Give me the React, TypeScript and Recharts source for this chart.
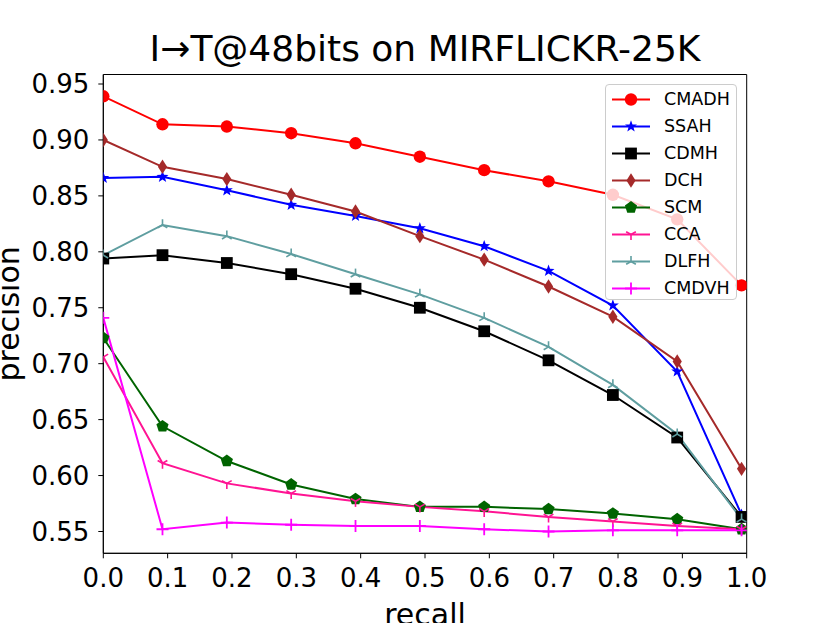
import React from 'react';
import { Label, Line, LineChart, ReferenceArea, XAxis, YAxis } from 'recharts';

const recall = [0, 0.092, 0.192, 0.292, 0.392, 0.492, 0.592, 0.692, 0.792, 0.892, 0.992];

const cmadh = [0.939, 0.914, 0.912, 0.906, 0.897, 0.885, 0.873, 0.863, 0.851, 0.829, 0.77];
const ssah = [0.866, 0.867, 0.855, 0.842, 0.832, 0.821, 0.805, 0.783, 0.752, 0.693, 0.565];
const cdmh = [0.794, 0.797, 0.79, 0.78, 0.767, 0.75, 0.729, 0.703, 0.672, 0.634, 0.563];
const dch = [0.9, 0.876, 0.865, 0.851, 0.836, 0.814, 0.793, 0.769, 0.742, 0.702, 0.606];
const scm = [0.723, 0.644, 0.613, 0.592, 0.579, 0.572, 0.572, 0.57, 0.566, 0.561, 0.552];
const cca = [0.706, 0.611, 0.593, 0.584, 0.577, 0.572, 0.568, 0.563, 0.559, 0.555, 0.552];
const dlfh = [0.797, 0.824, 0.814, 0.798, 0.78, 0.762, 0.741, 0.715, 0.681, 0.637, 0.561];
const cmdvh = [0.741, 0.552, 0.558, 0.556, 0.555, 0.555, 0.552, 0.55, 0.551, 0.551, 0.551];

const xTicks = [0, 0.1, 0.2, 0.3, 0.4, 0.5, 0.6, 0.7, 0.8, 0.9, 1.0];
const yTicks = [0.55, 0.6, 0.65, 0.7, 0.75, 0.8, 0.85, 0.9, 0.95];

type Shape = 'circle' | 'star' | 'square' | 'thinDiamond' | 'pentagon' | 'triDown' | 'triUp' | 'plus';

const series: { key: string; values: number[]; color: string; shape: Shape }[] = [
  { key: 'CMADH', values: cmadh, color: '#ff0000', shape: 'circle' },
  { key: 'SSAH', values: ssah, color: '#0000ff', shape: 'star' },
  { key: 'CDMH', values: cdmh, color: '#000000', shape: 'square' },
  { key: 'DCH', values: dch, color: '#a52a2a', shape: 'thinDiamond' },
  { key: 'SCM', values: scm, color: '#006400', shape: 'pentagon' },
  { key: 'CCA', values: cca, color: '#ff1493', shape: 'triDown' },
  { key: 'DLFH', values: dlfh, color: '#5f9ea0', shape: 'triUp' },
  { key: 'CMDVH', values: cmdvh, color: '#ff00ff', shape: 'plus' },
];

const data = recall.map((r, i) => {
  const row: Record<string, number> = { recall: r };
  series.forEach((s) => {
    row[s.key] = s.values[i];
  });
  return row;
});

const FONT = '"DejaVu Sans", sans-serif';
const W = 830;
const H = 623;
// plot box (matplotlib axes) in page pixels
const PLOT = { left: 103.3, top: 74.5, right: 746.7, bottom: 553.3 };
const Y_DOMAIN: [number, number] = [0.5305, 0.9585];

function polyPoints(cx: number, cy: number, n: number, rOuter: number, rInner?: number) {
  const pts: string[] = [];
  const count = rInner ? n * 2 : n;
  for (let i = 0; i < count; i++) {
    const r = rInner && i % 2 === 1 ? rInner : rOuter;
    const a = -Math.PI / 2 + (i * Math.PI * 2) / count;
    pts.push(`${cx + r * Math.cos(a)},${cy + r * Math.sin(a)}`);
  }
  return pts.join(' ');
}

function Marker({ shape, cx, cy, color }: { shape: Shape; cx: number; cy: number; color: string }) {
  switch (shape) {
    case 'circle':
      return <circle cx={cx} cy={cy} r={6.2} fill={color} />;
    case 'square':
      return <rect x={cx - 5.9} y={cy - 5.9} width={11.8} height={11.8} fill={color} />;
    case 'star':
      return <polygon points={polyPoints(cx, cy, 5, 6.3, 2.6)} fill={color} />;
    case 'thinDiamond':
      return (
        <polygon
          points={`${cx},${cy - 7.2} ${cx + 4.6},${cy} ${cx},${cy + 7.2} ${cx - 4.6},${cy}`}
          fill={color}
        />
      );
    case 'pentagon':
      return <polygon points={polyPoints(cx, cy, 5, 6.4)} fill={color} />;
    case 'triDown': {
      const r = 5.6;
      return (
        <g stroke={color} strokeWidth={1.6}>
          <line x1={cx} y1={cy} x2={cx} y2={cy + r} />
          <line x1={cx} y1={cy} x2={cx - r * 0.866} y2={cy - r * 0.5} />
          <line x1={cx} y1={cy} x2={cx + r * 0.866} y2={cy - r * 0.5} />
        </g>
      );
    }
    case 'triUp': {
      const r = 5.6;
      return (
        <g stroke={color} strokeWidth={1.6}>
          <line x1={cx} y1={cy} x2={cx} y2={cy - r} />
          <line x1={cx} y1={cy} x2={cx - r * 0.866} y2={cy + r * 0.5} />
          <line x1={cx} y1={cy} x2={cx + r * 0.866} y2={cy + r * 0.5} />
        </g>
      );
    }
    case 'plus':
    default:
      return (
        <g stroke={color} strokeWidth={1.8}>
          <line x1={cx - 6} y1={cy} x2={cx + 6} y2={cy} />
          <line x1={cx} y1={cy - 6} x2={cx} y2={cy + 6} />
        </g>
      );
  }
}

function makeDot(shape: Shape, color: string) {
  return (props: any) => {
    const { cx, cy, index } = props;
    if (cx == null || cy == null) return <g key={`d-${index}`} />;
    return (
      <g key={`d-${index}`} clipPath="url(#plotAreaClip)">
        <Marker shape={shape} cx={cx} cy={cy} color={color} />
      </g>
    );
  };
}

function ChartLegend() {
  return (
    <div
      style={{
        position: 'absolute',
        left: 605,
        top: 84,
        width: 130,
        height: 214,
        background: 'rgba(255,255,255,0.8)',
        border: '1px solid #cccccc',
        borderRadius: 4,
        fontFamily: FONT,
        fontSize: 17.5,
        color: '#000',
      }}
    >
      {series.map((s, i) => (
        <div
          key={s.key}
          style={{ position: 'absolute', left: 6, top: 1 + i * 27, height: 27, display: 'flex', alignItems: 'center' }}
        >
          <svg width={40} height={27} style={{ display: 'block' }}>
            <line x1={0} y1={13.5} x2={38} y2={13.5} stroke={s.color} strokeWidth={2} />
            <Marker shape={s.shape} cx={19} cy={13.5} color={s.color} />
          </svg>
          <span style={{ marginLeft: 12, lineHeight: '27px' }}>{s.key}</span>
        </div>
      ))}
    </div>
  );
}

export default function App() {
  return (
    <div style={{ position: 'absolute', left: 0, top: 0, width: W, height: H, background: '#fff', overflow: 'hidden' }}>
      <svg width={0} height={0} style={{ position: 'absolute' }}>
        <defs>
          <clipPath id="plotAreaClip" clipPathUnits="userSpaceOnUse">
            <rect
              x={PLOT.left}
              y={PLOT.top}
              width={PLOT.right - PLOT.left}
              height={PLOT.bottom - PLOT.top}
            />
          </clipPath>
        </defs>
      </svg>
      <div
        style={{
          position: 'absolute',
          left: 0,
          top: 31,
          width: 850,
          textAlign: 'center',
          fontFamily: FONT,
          fontSize: 36,
          lineHeight: 1,
          color: '#000',
          whiteSpace: 'nowrap',
        }}
      >
        I→T@48bits on MIRFLICKR-25K
      </div>
      <LineChart
        width={W}
        height={H}
        data={data}
        margin={{ top: PLOT.top, right: W - PLOT.right, bottom: 0, left: 0 }}
        style={{ fontFamily: FONT }}
      >
        <XAxis
          dataKey="recall"
          type="number"
          domain={[0, 1]}
          ticks={xTicks}
          allowDataOverflow
          tickFormatter={(v) => Number(v).toFixed(1)}
          height={H - PLOT.bottom}
          stroke="#000"
          tickSize={5}
          tickMargin={10}
          tick={{ fill: '#000', fontSize: 26 }}
        >
          <Label
            content={({ viewBox }: any) => (
              <text
                x={viewBox.x + viewBox.width / 2}
                y={viewBox.y + 71.2}
                textAnchor="middle"
                fontSize={30}
                fill="#000"
                fontFamily={FONT}
              >
                recall
              </text>
            )}
          />
        </XAxis>
        <YAxis
          type="number"
          domain={Y_DOMAIN}
          ticks={yTicks}
          allowDataOverflow
          tickFormatter={(v) => Number(v).toFixed(2)}
          width={PLOT.left}
          stroke="#000"
          tickSize={5}
          tickMargin={9}
          tick={{ fill: '#000', fontSize: 26 }}
        >
          <Label
            content={({ viewBox }: any) => {
              const cy = viewBox.y + viewBox.height / 2;
              return (
                <text
                  x={19}
                  y={cy}
                  transform={`rotate(-90, 19, ${cy})`}
                  textAnchor="middle"
                  fontSize={30}
                  fill="#000"
                  fontFamily={FONT}
                >
                  precision
                </text>
              );
            }}
          />
        </YAxis>
        <ReferenceArea
          x1={0}
          x2={1}
          y1={Y_DOMAIN[0]}
          y2={Y_DOMAIN[1]}
          fill="none"
          stroke="#000"
          strokeWidth={1}
          ifOverflow="visible"
        />
        {series.map((s) => (
          <Line
            key={s.key}
            dataKey={s.key}
            stroke={s.color}
            strokeWidth={2}
            dot={makeDot(s.shape, s.color)}
            activeDot={false}
            isAnimationActive={false}
          />
        ))}
      </LineChart>
      <ChartLegend />
    </div>
  );
}
